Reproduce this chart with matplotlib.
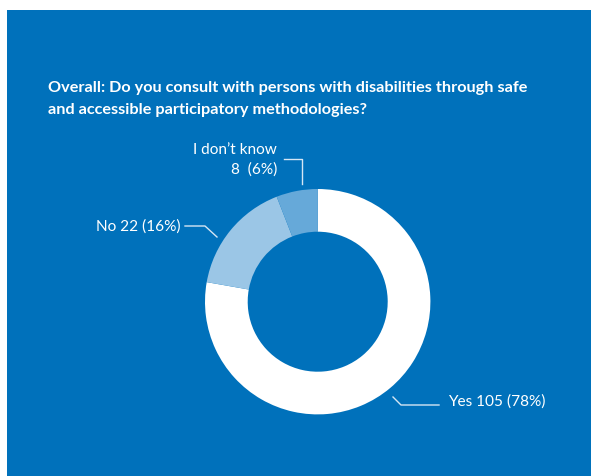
import matplotlib
matplotlib.use("Agg")
import matplotlib.pyplot as plt
from matplotlib.patches import Rectangle

categories = ["Yes", "No", "I don\u2019t know"]
counts = [105, 22, 8]
percents = [78, 16, 6]
colors = ["#FFFFFF", "#9BC6E6", "#66A9D9"]
bg = "#0071BB"
title_lines = ["Overall: Do you consult with persons with disabilities through safe",
               "and accessible participatory methodologies?"]

W, H = 591, 476
fig = plt.figure(figsize=(W / 100, H / 100), dpi=100)
fig.patch.set_facecolor("white")
ax = fig.add_axes([0, 0, 1, 1])
ax.set_axis_off()

ax.add_patch(Rectangle((7, 0), W - 7, H - 10, facecolor=bg, edgecolor="none", zorder=0))

cx, cy = 317.7, H - 301.7
R = 112.7
ax.pie(counts, colors=colors, startangle=90, counterclock=False,
       center=(cx, cy), radius=R,
       wedgeprops=dict(width=R - 70, edgecolor="none"), frame=False)
ax.set_xlim(0, W)
ax.set_ylim(0, H)
ax.set_aspect("equal")
ax.set_axis_off()

font = "Lato"
tfs = 11.7
ax.text(48, H - 88, title_lines[0], color="white", fontsize=tfs, fontweight="bold",
        family=font, ha="left", va="center")
ax.text(48, H - 110, title_lines[1], color="white", fontsize=tfs, fontweight="bold",
        family=font, ha="left", va="center")

lfs = 11.1
lc = "#D5E6F4"
lw = 1.0
# I don't know
ax.text(277, H - 150, "I don\u2019t know", color="white", fontsize=lfs, family=font,
        ha="right", va="center")
ax.text(277, H - 170, f"{counts[2]}  ({percents[2]}%)", color="white", fontsize=lfs,
        family=font, ha="right", va="center")
ax.plot([284, 302, 302], [H - 159, H - 159, H - 184], color=lc, lw=lw)
# No
ax.text(181, H - 227, f"{categories[1]} {counts[1]} ({percents[1]}%)", color="white",
        fontsize=lfs, family=font, ha="right", va="center")
ax.plot([185, 205, 217], [H - 226, H - 226, H - 237], color=lc, lw=lw)
# Yes
ax.text(448, H - 402, f"{categories[0]} {counts[0]} ({percents[0]}%)", color="white",
        fontsize=lfs, family=font, ha="left", va="center")
ax.plot([393, 401, 439], [H - 397, H - 405, H - 405], color=lc, lw=lw)

fig.savefig("out.png", dpi=100, facecolor=fig.get_facecolor())
